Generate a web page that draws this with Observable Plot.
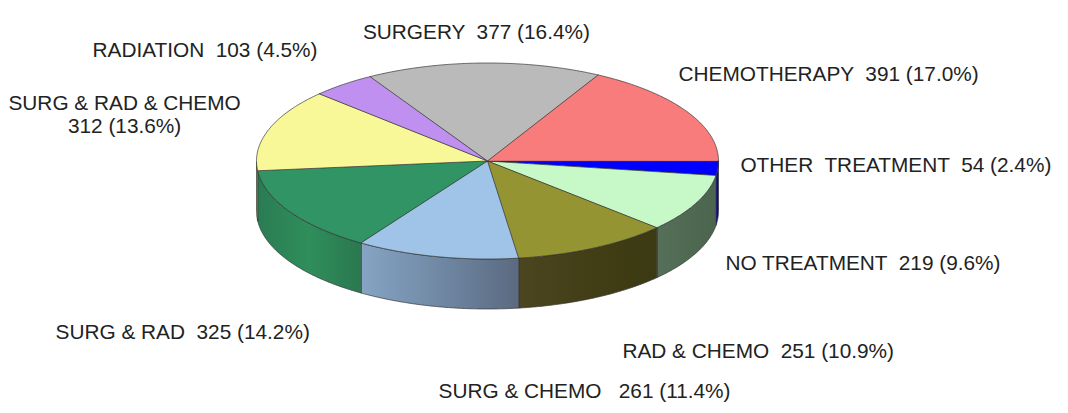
<!DOCTYPE html>
<html><head><meta charset="utf-8">
<script src="https://cdn.jsdelivr.net/npm/d3@7"></script>
<script src="https://cdn.jsdelivr.net/npm/@observablehq/plot@0.6"></script>
<style>
html,body{margin:0;padding:0;background:#fff;}
svg text{white-space:pre;}
</style></head><body><div id="chart"></div>
<script>
// ---- data (clockwise from 3 o'clock) ----
const categories = ["OTHER TREATMENT","NO TREATMENT","RAD & CHEMO","SURG & CHEMO","SURG & RAD","SURG & RAD & CHEMO","RADIATION","SURGERY","CHEMOTHERAPY"];
const counts = [54,219,251,261,325,312,103,377,391];
const percents = ["2.4%","9.6%","10.9%","11.4%","14.2%","13.6%","4.5%","16.4%","17.0%"];
const labelText = [
  "OTHER  TREATMENT  54 (2.4%)",
  "NO TREATMENT  219 (9.6%)",
  "RAD & CHEMO  251 (10.9%)",
  "SURG & CHEMO   261 (11.4%)",
  "SURG & RAD  325 (14.2%)",
  "SURG & RAD & CHEMO\n312 (13.6%)",
  "RADIATION  103 (4.5%)",
  "SURGERY  377 (16.4%)",
  "CHEMOTHERAPY  391 (17.0%)"
];
// ---- styles ----
const topColors = ["#0000ff","#c6f8c8","#949432","#a0c4e8","#309464","#f8f898","#c090f0","#bababa","#f87c7c"];
const sideColors = [
  ["#0000d0","#0000d8","#0000c0"],
  ["#55705a","#506a52","#4c644e"],
  ["#4c4620","#423e16","#3c3a12"],
  ["#86a4c4","#7088a4","#5a6a80"],
  ["#2a7c53","#2f8e5b","#2a7850"],
  ["#c0c070","#c8c878","#c0c070"],
  ["#9070c0","#9070c0","#9070c0"],
  ["#909090","#909090","#909090"],
  ["#c06060","#c06060","#c06060"]
];
// ---- label layout (pie units: x in radii, y in vertical radii) ----
const labelX = [1.095, 1.030, 0.584, -0.212, -1.870, -1.571, -1.710, -0.048, 0.827];
const labelY = [0.041, 1.041, 1.939, 2.347, 1.745, -0.474, -1.133, -1.321, -0.888];
const labelAnchor = ["start","start","start","start","start","middle","start","middle","start"];
const depth = 0.51;

const total = d3.sum(counts);
let acc = 0;
const slices = counts.map((c, i) => {
  const a = acc / total * 2 * Math.PI; acc += c;
  const b = acc / total * 2 * Math.PI;
  return {i, a, b};
});
const step = Math.PI / 360;
function arc(a, b, off = 0) {
  const n = Math.max(2, Math.ceil((b - a) / step));
  return d3.range(n + 1).map(k => { const t = a + (b - a) * k / n; return {x: Math.cos(t), y: Math.sin(t) + off}; });
}
const marks = [];
slices.forEach(s => {
  const lo = Math.max(s.a, 0), hi = Math.min(s.b, Math.PI);
  if (lo < hi) {
    const pts = [...arc(lo, hi), ...arc(lo, hi, depth).reverse()];
    marks.push(Plot.line(pts, {x: "x", y: "y", curve: "linear-closed", fill: `url(#side${s.i})`, stroke: "#333", strokeWidth: 0.7}));
  }
});
slices.forEach(s => {
  const pts = [{x: 0, y: 0}, ...arc(s.a, s.b)];
  marks.push(Plot.line(pts, {x: "x", y: "y", curve: "linear-closed", fill: topColors[s.i], stroke: "#333", strokeWidth: 0.7}));
});
const labels = labelText.map((t, i) => ({t, x: labelX[i], y: labelY[i], anchor: labelAnchor[i]}));
for (const anc of ["start", "middle"]) {
  marks.push(Plot.text(labels.filter(d => d.anchor === anc), {x: "x", y: "y", text: "t", textAnchor: anc, fontSize: 20.8, fill: "#222", lineHeight: 1.1}));
}

const chart = Plot.plot({
  width: 1068, height: 413,
  margin: 0, marginTop: 0, marginBottom: 0, marginLeft: 0, marginRight: 0,
  x: {domain: [-1, 1], range: [256, 718], axis: null},
  y: {domain: [-1, 1], range: [62.5, 258.5], axis: null},
  style: {fontFamily: "'Liberation Sans', Arial, sans-serif", background: "#fff", overflow: "visible"},
  marks
});
const defs = d3.select(chart).insert("defs", ":first-child");
sideColors.forEach((cs, i) => {
  const g = defs.append("linearGradient").attr("id", `side${i}`).attr("x1", "0").attr("x2", "1").attr("y1", "0").attr("y2", "0");
  cs.forEach((c, k) => g.append("stop").attr("offset", k / (cs.length - 1)).attr("stop-color", c));
});
document.getElementById("chart").appendChild(chart);
</script></body></html>
